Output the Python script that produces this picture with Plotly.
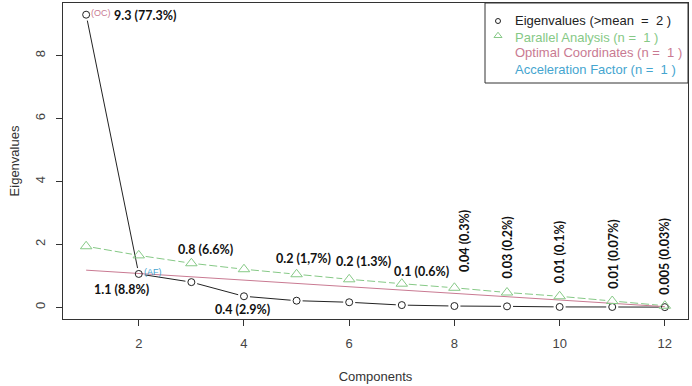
import plotly.graph_objects as go

components = list(range(1, 13))
eigenvalues = [9.3, 1.06, 0.8, 0.35, 0.21, 0.16, 0.07, 0.04, 0.03, 0.012, 0.01, 0.005]
parallel = [1.94, 1.65, 1.40, 1.21, 1.05, 0.89, 0.75, 0.62, 0.47, 0.35, 0.20, 0.05]
oc_x = [1, 12]
oc_y = [1.18, 0.02]
labels = ["9.3 (77.3%)", "1.1 (8.8%)", "0.8 (6.6%)", "0.4 (2.9%)", "0.2 (1,7%)",
          "0.2 (1.3%)", "0.1 (0.6%)", "0.04 (0.3%)", "0.03 (0.2%)", "0.01 (0.1%)",
          "0.01 (0.07%)", "0.005 (0.03%)"]
label_x = [1.49, 1.11, 2.70, 3.41, 5.14, 6.28, 7.38, 8.18, 9.0, 10.0, 11.02, 11.98]
label_y = [9.27, 0.57, 1.84, -0.07, 1.56, 1.46, 1.15, 2.1, 1.9, 1.74, 1.71, 1.63]
label_anchor = ["left", "left", "left", "left", "center", "center", "center",
                "center", "center", "center", "center", "center"]
label_angle = [0, 0, 0, 0, 0, 0, 0, -90, -90, -90, -90, -90]
legend_texts = ["Eigenvalues (>mean  =  2 )", "Parallel Analysis (n =  1 )",
                "Optimal Coordinates (n =  1 )", "Acceleration Factor (n =  1 )"]

GREEN = "#86c986"
PINK = "#c97a92"
BLUE = "#45a5cf"
legend_colors = ["#222", GREEN, PINK, BLUE]

W, H = 692, 386
ML, MR, MT, MB = 63, 4, 3, 67
PW, PH = W - ML - MR, H - MT - MB
XR = [0.56, 12.44]
YR = [-0.372, 9.672]
sx = PW / (XR[1] - XR[0])
sy = PH / (YR[1] - YR[0])


def gapped(xs, ys, gap=6.0):
    gx, gy = [], []
    for i in range(len(xs) - 1):
        dxp = (xs[i + 1] - xs[i]) * sx
        dyp = (ys[i + 1] - ys[i]) * sy
        d = (dxp ** 2 + dyp ** 2) ** 0.5
        if d <= 2 * gap:
            continue
        f = gap / d
        gx += [xs[i] + (xs[i + 1] - xs[i]) * f, xs[i + 1] - (xs[i + 1] - xs[i]) * f, None]
        gy += [ys[i] + (ys[i + 1] - ys[i]) * f, ys[i + 1] - (ys[i + 1] - ys[i]) * f, None]
    return gx, gy


def px2x(p):
    return (p - ML) / PW


def px2y(p):
    return 1 - (p - MT) / PH


fig = go.Figure()

ex, ey = gapped(components, eigenvalues)
fig.add_trace(go.Scatter(x=ex, y=ey, mode="lines", line=dict(color="#222", width=1),
                         showlegend=False, hoverinfo="skip"))
gx_, gy_ = gapped(components, parallel, 7)
fig.add_trace(go.Scatter(x=gx_, y=gy_, mode="lines", line=dict(color=GREEN, width=1, dash="8px,3px"),
                         showlegend=False, hoverinfo="skip"))
fig.add_trace(go.Scatter(x=oc_x, y=oc_y, mode="lines", line=dict(color=PINK, width=1),
                         showlegend=False, hoverinfo="skip"))
fig.add_trace(go.Scatter(x=components, y=eigenvalues, mode="markers",
                         marker=dict(symbol="circle-open", size=7, color="#222", line=dict(width=1)),
                         showlegend=False))
fig.add_trace(go.Scatter(x=components, y=parallel, mode="markers",
                         marker=dict(symbol="triangle-up-open", size=10, color=GREEN, line=dict(width=1)),
                         showlegend=False))

# manual legend (R style)
rows = [21, 37, 53, 69]
fig.add_shape(type="rect", xref="paper", yref="paper", x0=px2x(485), x1=1, y0=px2y(83), y1=1,
              line=dict(color="#333", width=1), fillcolor="white", layer="below")
fig.add_trace(go.Scatter(x=[px2x(498)], y=[px2y(rows[0])], xaxis="x2", yaxis="y2", mode="markers",
                         marker=dict(symbol="circle-open", size=5, color="#222", line=dict(width=1)),
                         showlegend=False, hoverinfo="skip"))
fig.add_trace(go.Scatter(x=[px2x(498)], y=[px2y(rows[1]) + 0.004], xaxis="x2", yaxis="y2", mode="markers",
                         marker=dict(symbol="triangle-up-open", size=7, color=GREEN, line=dict(width=1)),
                         showlegend=False, hoverinfo="skip"))
for t, c, r in zip(legend_texts, legend_colors, rows):
    fig.add_annotation(xref="paper", yref="paper", x=px2x(513), y=px2y(r), text=t, showarrow=False,
                       xanchor="left", yanchor="middle",
                       font=dict(family="Liberation Sans, Arial", size=13, color=c))

for t, x, y, a, ang in zip(labels, label_x, label_y, label_anchor, label_angle):
    fig.add_annotation(x=x, y=y, text="<b>%s</b>" % t, showarrow=False, xanchor=a,
                       textangle=ang, font=dict(family="Lato, Open Sans, sans-serif", size=12.5, color="#111"))

fig.add_annotation(x=components[0], y=eigenvalues[0], text="(OC)", showarrow=False,
                   xanchor="left", yanchor="bottom", xshift=3, yshift=-5,
                   font=dict(family="Liberation Sans, Arial", size=9, color=PINK))
fig.add_annotation(x=components[1], y=eigenvalues[1], text="(AF)", showarrow=False,
                   xanchor="left", yanchor="bottom", xshift=3, yshift=-5,
                   font=dict(family="Liberation Sans, Arial", size=9, color=BLUE))

axis_common = dict(showline=True, linecolor="#333", linewidth=1, mirror=True, showgrid=False,
                   zeroline=False, ticks="outside", ticklen=6, tickcolor="#333", automargin=False,
                   tickfont=dict(family="Liberation Sans, Arial", size=13, color="#444"))

fig.update_layout(
    width=W, height=H, margin=dict(l=ML, r=MR, t=MT, b=MB),
    plot_bgcolor="white", paper_bgcolor="white",
    xaxis=dict(range=XR, tickvals=[2, 4, 6, 8, 10, 12], ticklabelstandoff=6,
               title=dict(text="Components", standoff=22,
                          font=dict(family="Liberation Sans, Arial", size=13, color="#333")),
               **axis_common),
    yaxis=dict(range=YR, tickvals=[0, 2, 4, 6, 8], tickangle=-90, ticklabelstandoff=6,
               title=dict(text="Eigenvalues", standoff=10,
                          font=dict(family="Liberation Sans, Arial", size=13, color="#333")),
               **axis_common),
    xaxis2=dict(range=[0, 1], overlaying="x", anchor="y2", visible=False, fixedrange=True),
    yaxis2=dict(range=[0, 1], overlaying="y", anchor="x2", visible=False, fixedrange=True),
    showlegend=False,
)

fig.write_html("out.html", config={"displayModeBar": False},
               post_script="document.body.style.margin='0';")
